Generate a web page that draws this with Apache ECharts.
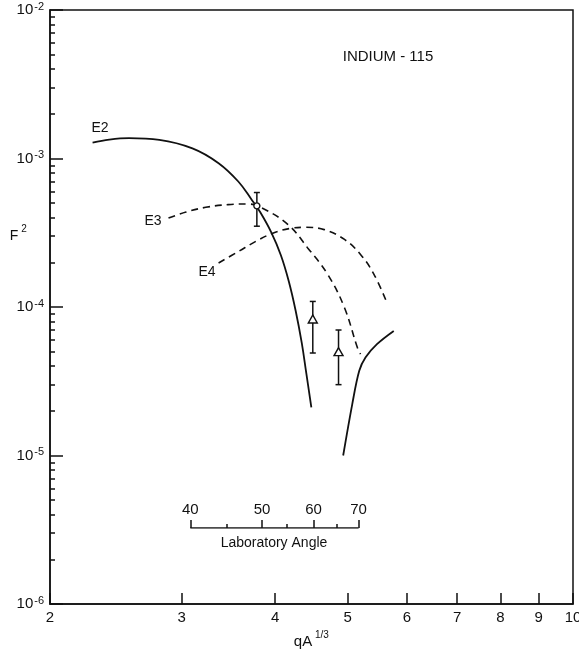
<!DOCTYPE html>
<html>
<head>
<meta charset="utf-8">
<script src="https://cdn.jsdelivr.net/npm/echarts@6.0.0/dist/echarts.min.js"></script>
<style>
  html, body { margin: 0; padding: 0; background: #fff; }
  #chart { width: 579px; height: 652px; }
</style>
</head>
<body>
<div id="chart"></div>
<script>
// ---------- data ----------
const xTickValues = [2, 3, 4, 5, 6, 7, 8, 9, 10];
const yMajorTicks = [1e-6, 1e-5, 1e-4, 1e-3, 1e-2];
const yMinorMultipliers = [2, 3, 4, 5, 6, 7, 8, 9];

const e2aX = [2.28, 2.40, 2.55, 2.80, 3.10, 3.36, 3.57, 3.72, 3.82, 3.95, 4.07, 4.17, 4.26, 4.34, 4.40, 4.47];
const e2aY = [1.28e-3, 1.34e-3, 1.37e-3, 1.335e-3, 1.17e-3, 9.3e-4, 7.0e-4, 5.28e-4, 4.34e-4, 3.19e-4, 2.23e-4, 1.49e-4, 9.4e-5, 5.73e-5, 3.61e-5, 2.11e-5];

const e2bX = [4.93, 5.07, 5.18, 5.28, 5.47, 5.76];
const e2bY = [1.0e-5, 2.22e-5, 3.72e-5, 4.57e-5, 5.62e-5, 6.90e-5];

const e3X = [2.88, 3.04, 3.23, 3.46, 3.68, 3.84, 4.16, 4.42, 4.70, 4.95, 5.15, 5.20];
const e3Y = [3.97e-4, 4.36e-4, 4.69e-4, 4.89e-4, 4.94e-4, 4.64e-4, 3.59e-4, 2.50e-4, 1.66e-4, 9.89e-5, 5.33e-5, 4.82e-5];

const e4X = [3.36, 3.57, 3.77, 3.97, 4.20, 4.38, 4.65, 4.95, 5.20, 5.42, 5.64];
const e4Y = [1.98e-4, 2.36e-4, 2.77e-4, 3.14e-4, 3.39e-4, 3.44e-4, 3.32e-4, 2.85e-4, 2.26e-4, 1.66e-4, 1.07e-4];

const expX = [3.78, 4.49, 4.86];
const expY = [4.8e-4, 8.3e-5, 5.0e-5];
const expLo = [3.5e-4, 4.9e-5, 3.0e-5];
const expHi = [5.9e-4, 1.09e-4, 7.0e-5];
const expSymbol = ['circle', 'triangle', 'triangle'];

// Laboratory-angle inset scale: angle and its position on the qA^1/3 axis
const labAngles = [40, 45, 50, 55, 60, 65, 70];
const labAngleQ = [3.08, 3.45, 3.84, 4.14, 4.50, 4.83, 5.17];

// ---------- build ----------
const zip = (xs, ys) => xs.map((x, i) => [x, ys[i]]);
const yMinorTicks = [];
for (let e = -6; e < -2; e++) yMinorMultipliers.forEach(m => yMinorTicks.push(m * Math.pow(10, e)));
const labMajorQ = labAngleQ.filter((q, i) => labAngles[i] % 10 === 0);
const labMinorQ = labAngleQ.filter((q, i) => labAngles[i] % 10 !== 0);
const angleFor = v => {
  let best = 0, bd = Infinity;
  labAngleQ.forEach((q, i) => { const d = Math.abs(q - v); if (d < bd) { bd = d; best = i; } });
  return labAngles[best];
};

const FONT = 'Liberation Sans';
const BLACK = '#111';
const gridL = 50, gridR = 6, gridT = 10, gridB = 48;

const chart = echarts.init(document.getElementById('chart'), null, { renderer: 'canvas' });

const option = {
  backgroundColor: '#fff',
  animation: false,
  textStyle: { fontFamily: FONT, color: BLACK },
  grid: [
    { left: gridL, right: gridR, top: gridT, bottom: gridB, show: true, borderColor: BLACK, borderWidth: 1.5, backgroundColor: 'transparent', outerBoundsMode: 'none' },
    { left: gridL, right: gridR, top: 500, height: 28, show: false, outerBoundsMode: 'none' }
  ],
  xAxis: [
    {
      type: 'log', gridIndex: 0, min: 2, max: 10, position: 'bottom',
      axisLine: { show: true, lineStyle: { color: BLACK, width: 1.5 } },
      axisTick: { show: true, inside: true, length: 11, customValues: xTickValues, lineStyle: { color: BLACK, width: 1.5 } },
      axisLabel: { show: true, customValues: xTickValues, margin: 6, fontSize: 15, fontFamily: FONT, color: BLACK, formatter: v => String(Math.round(v)) },
      splitLine: { show: false }, minorTick: { show: false }
    },
    {
      type: 'log', gridIndex: 1, min: 2, max: 10, position: 'bottom',
      axisLine: { show: false },
      axisTick: { show: true, inside: true, length: 8, customValues: labMajorQ, lineStyle: { color: BLACK, width: 1.5 } },
      axisLabel: { show: true, inside: true, customValues: labMajorQ, margin: 11, fontSize: 15, fontFamily: FONT, color: BLACK, formatter: v => String(angleFor(v)) },
      splitLine: { show: false }
    },
    {
      type: 'log', gridIndex: 1, min: 2, max: 10, position: 'bottom',
      axisLine: { show: false },
      axisTick: { show: true, inside: true, length: 4, customValues: labMinorQ, lineStyle: { color: BLACK, width: 1.5 } },
      axisLabel: { show: false },
      splitLine: { show: false }
    }
  ],
  yAxis: [
    {
      type: 'log', gridIndex: 0, min: 1e-6, max: 1e-2, position: 'left',
      axisLine: { show: true, lineStyle: { color: BLACK, width: 1.5 } },
      axisTick: { show: true, inside: true, length: 13, customValues: yMajorTicks, lineStyle: { color: BLACK, width: 1.5 } },
      axisLabel: {
        show: true, customValues: yMajorTicks, margin: 6,
        formatter: v => '{b|10}{s|' + Math.round(Math.log10(v)) + '}',
        rich: {
          b: { fontSize: 15, fontFamily: FONT, color: BLACK },
          s: { fontSize: 11, fontFamily: FONT, color: BLACK, padding: [0, 0, 7, 1] }
        }
      },
      splitLine: { show: false }
    },
    {
      type: 'log', gridIndex: 0, min: 1e-6, max: 1e-2, position: 'left',
      axisLine: { show: false },
      axisTick: { show: true, inside: true, length: 5, customValues: yMinorTicks, lineStyle: { color: BLACK, width: 1.5 } },
      axisLabel: { show: false },
      splitLine: { show: false }
    },
    { type: 'value', gridIndex: 1, min: 0, max: 1, show: false }
  ],
  series: [
    { name: 'E2', type: 'line', xAxisIndex: 0, yAxisIndex: 0, data: zip(e2aX, e2aY), smooth: 0.4, showSymbol: false, lineStyle: { color: BLACK, width: 1.8 }, z: 2 },
    { name: 'E2b', type: 'line', xAxisIndex: 0, yAxisIndex: 0, data: zip(e2bX, e2bY), smooth: 0.35, showSymbol: false, lineStyle: { color: BLACK, width: 1.8 }, z: 2 },
    { name: 'E3', type: 'line', xAxisIndex: 0, yAxisIndex: 0, data: zip(e3X, e3Y), smooth: 0.4, showSymbol: false, lineStyle: { color: BLACK, width: 1.6, type: [7, 5] }, z: 2 },
    { name: 'E4', type: 'line', xAxisIndex: 0, yAxisIndex: 0, data: zip(e4X, e4Y), smooth: 0.4, showSymbol: false, lineStyle: { color: BLACK, width: 1.6, type: [7, 5] }, z: 2 },
    {
      name: 'errors', type: 'custom', xAxisIndex: 0, yAxisIndex: 0, z: 3,
      data: expX.map((x, i) => [x, expLo[i], expHi[i]]),
      encode: { x: 0, y: [1, 2] },
      renderItem: (params, api) => {
        const x = api.value(0);
        const lo = api.coord([x, api.value(1)]);
        const hi = api.coord([x, api.value(2)]);
        const w = 3;
        const st = { stroke: BLACK, lineWidth: 1.5 };
        return {
          type: 'group', children: [
            { type: 'line', shape: { x1: hi[0], y1: hi[1], x2: lo[0], y2: lo[1] }, style: st },
            { type: 'line', shape: { x1: hi[0] - w, y1: hi[1], x2: hi[0] + w, y2: hi[1] }, style: st },
            { type: 'line', shape: { x1: lo[0] - w, y1: lo[1], x2: lo[0] + w, y2: lo[1] }, style: st }
          ]
        };
      }
    },
    {
      name: 'data', type: 'scatter', xAxisIndex: 0, yAxisIndex: 0, z: 4,
      data: expX.map((x, i) => ({ value: [x, expY[i]], symbol: expSymbol[i], symbolSize: expSymbol[i] === 'circle' ? 6 : [9, 8] })),
      itemStyle: { color: '#fff', borderColor: BLACK, borderWidth: 1.4, opacity: 1 }
    },
    {
      name: 'labAxisLine', type: 'line', xAxisIndex: 1, yAxisIndex: 2,
      data: [[labAngleQ[0], 0], [labAngleQ[labAngleQ.length - 1], 0]],
      showSymbol: false, lineStyle: { color: BLACK, width: 1.5 }
    }
  ],
  graphic: [
    { type: 'text', x: 388, y: 57, style: { text: 'INDIUM - 115', fontSize: 15, fontFamily: FONT, fill: BLACK, textAlign: 'center', textVerticalAlign: 'middle' } },
    { type: 'text', x: 100, y: 128, style: { text: 'E2', fontSize: 14, fontFamily: FONT, fill: BLACK, textAlign: 'center', textVerticalAlign: 'middle' } },
    { type: 'text', x: 153, y: 221, style: { text: 'E3', fontSize: 14, fontFamily: FONT, fill: BLACK, textAlign: 'center', textVerticalAlign: 'middle' } },
    { type: 'text', x: 207, y: 272, style: { text: 'E4', fontSize: 14, fontFamily: FONT, fill: BLACK, textAlign: 'center', textVerticalAlign: 'middle' } },
    { type: 'text', x: 14, y: 236, style: { text: 'F', fontSize: 14, fontFamily: FONT, fill: BLACK, textAlign: 'center', textVerticalAlign: 'middle' } },
    { type: 'text', x: 24, y: 229, style: { text: '2', fontSize: 10, fontFamily: FONT, fill: BLACK, textAlign: 'center', textVerticalAlign: 'middle' } },
    { type: 'text', x: 303, y: 642, style: { text: 'qA', fontSize: 15, fontFamily: FONT, fill: BLACK, textAlign: 'center', textVerticalAlign: 'middle' } },
    { type: 'text', x: 315, y: 635, style: { text: '1/3', fontSize: 10, fontFamily: FONT, fill: BLACK, textAlign: 'left', textVerticalAlign: 'middle' } },
    { type: 'text', x: 274, y: 543, style: { text: 'Laboratory Angle', fontSize: 14, fontFamily: FONT, fill: BLACK, textAlign: 'center', textVerticalAlign: 'middle' } }
  ]
};
chart.setOption(option);
</script>
</body>
</html>
